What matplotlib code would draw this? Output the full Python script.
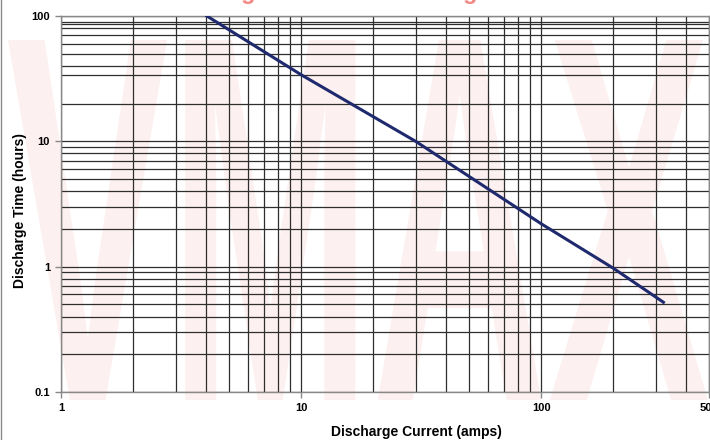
import matplotlib
matplotlib.use("Agg")
import matplotlib.pyplot as plt
from matplotlib.ticker import FixedLocator, FixedFormatter, NullFormatter
from matplotlib.textpath import TextPath
from matplotlib.patches import PathPatch
from matplotlib.font_manager import FontProperties
from matplotlib.transforms import Affine2D
from matplotlib.lines import Line2D

# discharge curve
current = [4.05, 10, 30, 100, 200, 323]      # amps
hours = [100, 34, 10, 2.2, 0.97, 0.52]       # hours

x_major = [1, 10, 100, 500]
x_labels = ["1", "10", "100", "500"]
x_grid = [2, 3, 4, 5, 6, 7, 8, 9, 20, 30, 40, 50, 60, 70, 80, 90, 200, 300, 400]
y_major = [0.1, 1, 10, 100]
y_labels = ["0.1", "1", "10", "100"]
y_grid = [0.2, 0.3, 0.4, 0.5, 0.6, 0.7, 0.8, 0.9,
          2, 3, 4, 5, 6, 7, 8, 9,
          20, 33.6, 40, 50, 60, 70, 80, 86, 90]

plt.rcParams['font.family'] = ['Liberation Sans', 'DejaVu Sans']

W, H = 710, 440
fig = plt.figure(figsize=(W / 100, H / 100), dpi=100)

# faint watermark behind the plot
tp = TextPath((0, 0), "VMAX", size=1,
              prop=FontProperties(family='Liberation Sans', weight='bold'))
ext = tp.get_extents()
tr = (Affine2D().translate(-ext.x0, -ext.y0)
      .scale(700 / ext.width, 360 / ext.height)
      .translate(8, 40).scale(1 / W, 1 / H))
wm = PathPatch(tr.transform_path(tp), fc='#fdf0f0', ec='none',
               transform=fig.transFigure, zorder=0)
fig.add_artist(wm)

# red title, mostly above the top edge (cut off in the original)
fig.text(368 / W, 1 + 1.5 / H, "Discharge Time vs. Discharge Current",
         color='#f28a86', ha='center', va='baseline', fontsize=17,
         fontweight='bold')

# thin frame line on the left
fig.add_artist(Line2D([0.0015, 0.0015], [0, 1], color='#8a8a8a', lw=1,
                      transform=fig.transFigure))

ax = fig.add_axes([61 / W, 48 / H, 648 / W, 376 / H])
ax.patch.set_alpha(0)
ax.set_zorder(1)

ax.set_xscale('log')
ax.set_yscale('log')
ax.set_xlim(1, 500)
ax.set_ylim(0.1, 100)

ax.xaxis.set_major_locator(FixedLocator(x_major))
ax.xaxis.set_major_formatter(FixedFormatter(x_labels))
ax.xaxis.set_minor_locator(FixedLocator(x_grid))
ax.xaxis.set_minor_formatter(NullFormatter())
ax.yaxis.set_major_locator(FixedLocator(y_major))
ax.yaxis.set_major_formatter(FixedFormatter(y_labels))
ax.yaxis.set_minor_locator(FixedLocator(y_grid))
ax.yaxis.set_minor_formatter(NullFormatter())

ax.grid(True, which='both', color='#2e2e2e', lw=0.9)
ax.set_axisbelow(True)

ax.tick_params(which='major', length=4, width=1, color='#888888',
               labelsize=8, pad=4)
ax.tick_params(which='minor', length=0)
for lab in ax.get_xticklabels() + ax.get_yticklabels():
    lab.set_fontweight('bold')

for s in ax.spines.values():
    s.set_color('#888888')
    s.set_linewidth(1)

ax.plot(current, hours, color='#1f2a6e', lw=2.2, zorder=3)

ax.set_xlabel("Discharge Current (amps)", fontsize=10, fontweight='bold')
ax.set_ylabel("Discharge Time (hours)", fontsize=10, fontweight='bold')
ax.xaxis.set_label_coords(0.549, -0.088)
ax.yaxis.set_label_coords(-0.053, 0.484)

fig.savefig("out.png", dpi=100)
